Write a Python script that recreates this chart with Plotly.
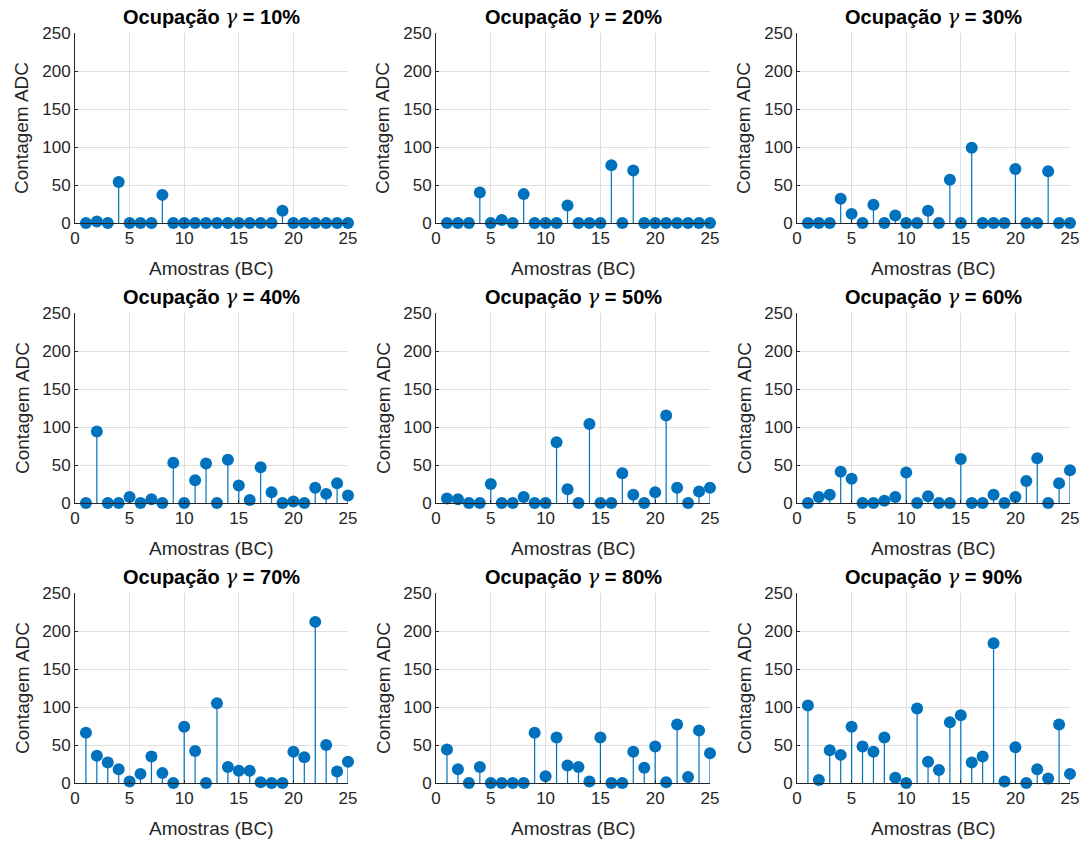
import plotly.graph_objects as go
from plotly.subplots import make_subplots

samples = [1, 2, 3, 4, 5, 6, 7, 8, 9, 10, 11, 12, 13, 14, 15, 16, 17, 18, 19, 20, 21, 22, 23, 24, 25]
occupancy = [10, 20, 30, 40, 50, 60, 70, 80, 90]

g10 = [0, 2, 0, 54, 0, 0, 0, 37, 0, 0, 0, 0, 0, 0, 0, 0, 0, 0, 16, 0, 0, 0, 0, 0, 0]
g20 = [0, 0, 0, 40, 0, 4, 0, 38, 0, 0, 0, 23, 0, 0, 0, 76, 0, 69, 0, 0, 0, 0, 0, 0, 0]
g30 = [0, 0, 0, 32, 12, 0, 24, 0, 10, 0, 0, 16, 0, 57, 0, 99, 0, 0, 0, 71, 0, 0, 68, 0, 0]
g40 = [0, 94, 0, 0, 8, 0, 5, 0, 53, 0, 30, 52, 0, 57, 23, 4, 47, 14, 0, 2, 0, 20, 12, 26, 10]
g50 = [6, 5, 0, 0, 25, 0, 0, 8, 0, 0, 80, 18, 0, 104, 0, 0, 39, 11, 0, 14, 115, 20, 0, 15, 20]
g60 = [0, 8, 11, 41, 32, 0, 0, 3, 8, 40, 0, 9, 0, 0, 58, 0, 0, 11, 0, 8, 29, 59, 0, 26, 43]
g70 = [66, 36, 27, 18, 2, 12, 35, 13, 0, 74, 42, 0, 105, 21, 16, 16, 1, 0, 0, 41, 34, 212, 50, 15, 28]
g80 = [44, 18, 0, 21, 0, 0, 0, 0, 66, 9, 60, 23, 21, 2, 60, 0, 0, 41, 20, 48, 1, 77, 8, 69, 39]
g90 = [102, 4, 43, 37, 74, 48, 41, 60, 7, 0, 98, 28, 17, 80, 89, 27, 35, 184, 2, 47, 0, 18, 6, 77, 12]

series = [g10, g20, g30, g40, g50, g60, g70, g80, g90]

W, H = 1089, 843
BLUE = "#0072BD"
TXT = "#262626"
FONT = "Liberation Sans, Arial, sans-serif"

# plot areas in window pixels
cols_px = [(75, 348), (436, 710), (797, 1070)]
rows_px = [(33, 223), (313, 503), (593, 783)]


def px(v):
    return v / W


def py(v):
    return 1 - v / H


fig = make_subplots(rows=3, cols=3)

for k, vals in enumerate(series):
    r, c = k // 3, k % 3
    sx, sy = [], []
    for x, v in zip(samples, vals):
        sx += [x, x, None]
        sy += [0, v, None]
    fig.add_trace(go.Scatter(x=sx, y=sy, mode="lines", line=dict(color=BLUE, width=1.2),
                             hoverinfo="skip", showlegend=False), row=r + 1, col=c + 1)
    fig.add_trace(go.Scatter(x=samples, y=vals, mode="markers", cliponaxis=False,
                             marker=dict(color=BLUE, size=12, line=dict(width=0)),
                             showlegend=False), row=r + 1, col=c + 1)

    x0, x1 = cols_px[c]
    y0, y1 = rows_px[r]
    idx = "" if k == 0 else str(k + 1)
    fig.layout["xaxis" + idx].update(domain=[px(x0), px(x1)])
    fig.layout["yaxis" + idx].update(domain=[py(y1), py(y0)])

    title = ("<b>Ocupação </b><span style='font-family:DejaVu Serif'><i>γ</i></span>"
             "<b> = %d%%</b>" % occupancy[k])
    fig.add_annotation(text=title, x=px((x0 + x1) / 2), y=py(y0 - 16),
                       xref="paper", yref="paper", showarrow=False,
                       font=dict(size=20, color="black"),
                       xanchor="center", yanchor="middle")
    fig.add_annotation(text="Amostras (BC)", x=px((x0 + x1) / 2), y=py(y1 + 45),
                       xref="paper", yref="paper", showarrow=False,
                       font=dict(size=19, color=TXT), xanchor="center", yanchor="middle")
    fig.add_annotation(text="Contagem ADC", x=px(x0 - 53), y=py((y0 + y1) / 2),
                       xref="paper", yref="paper", showarrow=False, textangle=-90,
                       font=dict(size=19, color=TXT), xanchor="center", yanchor="middle")

fig.update_xaxes(range=[0, 25], tickvals=[0, 5, 10, 15, 20, 25], showgrid=True,
                 gridcolor="#dfdfdf", gridwidth=1, showline=True, linecolor=TXT,
                 linewidth=1, ticks="inside", ticklen=3, tickcolor=TXT,
                 tickfont=dict(size=17, color=TXT), zeroline=False, mirror=False,
                 automargin=False)
fig.update_yaxes(range=[0, 250], tickvals=[0, 50, 100, 150, 200, 250], showgrid=True,
                 gridcolor="#dfdfdf", gridwidth=1, showline=True, linecolor=TXT,
                 linewidth=1, ticks="inside", ticklen=3, tickcolor=TXT,
                 tickfont=dict(size=17, color=TXT), zeroline=False, mirror=False,
                 automargin=False)

fig.update_layout(width=W, height=H, margin=dict(l=0, r=0, t=0, b=0, autoexpand=False),
                  plot_bgcolor="white", paper_bgcolor="white",
                  font=dict(family=FONT, color=TXT))

# drop the default 8px body margin so the figure fills the window exactly
fig.write_html("out.html", config={"displayModeBar": False},
               post_script="document.body.style.margin = '0';")
